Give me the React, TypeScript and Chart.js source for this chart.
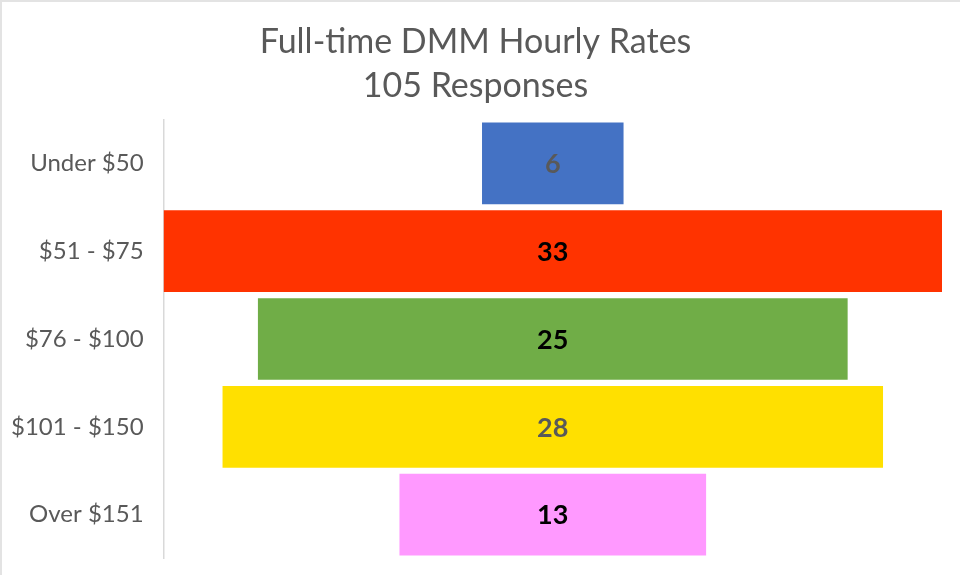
import React, { useEffect, useRef } from "react";
import { Chart, registerables } from "chart.js";

Chart.register(...registerables);

const categories = ["Under $50", "$51 - $75", "$76 - $100", "$101 - $150", "Over $151"];
const responses = [6, 33, 25, 28, 13];
const barColors = ["#4472C4", "#FF3300", "#70AD47", "#FFE000", "#FF99FF"];
const labelColors = ["#595959", "#000000", "#000000", "#595959", "#000000"];
const titleLines = ["Full-time DMM Hourly Rates", "105 Responses"];

const FONT = "Lato, 'Open Sans', sans-serif";

const valueLabels = {
  id: "valueLabels",
  afterDatasetsDraw(chart: any) {
    const ctx = chart.ctx;
    const meta = chart.getDatasetMeta(0);
    ctx.save();
    ctx.font = `bold 27px ${FONT}`;
    ctx.textAlign = "center";
    ctx.textBaseline = "middle";
    meta.data.forEach((el: any, i: number) => {
      const cx = (el.x + el.base) / 2;
      ctx.fillStyle = labelColors[i];
      ctx.fillText(String(responses[i]), cx, el.y + 1);
    });
    ctx.restore();
  },
};

export default function App() {
  const ref = useRef<HTMLCanvasElement | null>(null);
  useEffect(() => {
    if (!ref.current) return;
    const maxV = Math.max(...responses);
    const chart = new Chart(ref.current, {
      type: "bar",
      data: {
        labels: categories,
        datasets: [
          {
            data: responses.map((v) => [-v / 2, v / 2]) as any,
            backgroundColor: barColors,
            borderWidth: 0,
            barPercentage: 0.93,
            categoryPercentage: 1,
          },
        ],
      },
      options: {
        indexAxis: "y",
        animation: false,
        responsive: false,
        maintainAspectRatio: false,
        layout: { padding: { left: 7, right: 18, top: 0, bottom: 15 } },
        plugins: {
          legend: { display: false },
          tooltip: { enabled: false },
          title: {
            display: true,
            text: titleLines,
            color: "#595959",
            font: { family: FONT, size: 34, weight: "normal", lineHeight: 1.3 },
            padding: { top: 18, bottom: 11 },
          },
        },
        scales: {
          x: {
            display: false,
            min: -maxV / 2,
            max: maxV / 2,
          },
          y: {
            grid: { display: false, drawTicks: true, tickLength: 18 },
            border: { display: true, color: "#D9D9D9", width: 1.5 },
            ticks: {
              color: "#595959",
              padding: 2,
              font: { family: FONT, size: 24 },
            },
          },
        },
      },
      plugins: [valueLabels],
    });
    return () => chart.destroy();
  }, []);
  return (
    <div
      style={{
        position: "fixed",
        left: 0,
        top: 0,
        width: 960,
        height: 575,
        background: "#fff",
        boxSizing: "border-box",
        borderTop: "2px solid #E3E3E3",
        borderLeft: "2px solid #E3E3E3",
      }}
    >
      <canvas ref={ref} width={958} height={573} style={{ display: "block" }} />
    </div>
  );
}
